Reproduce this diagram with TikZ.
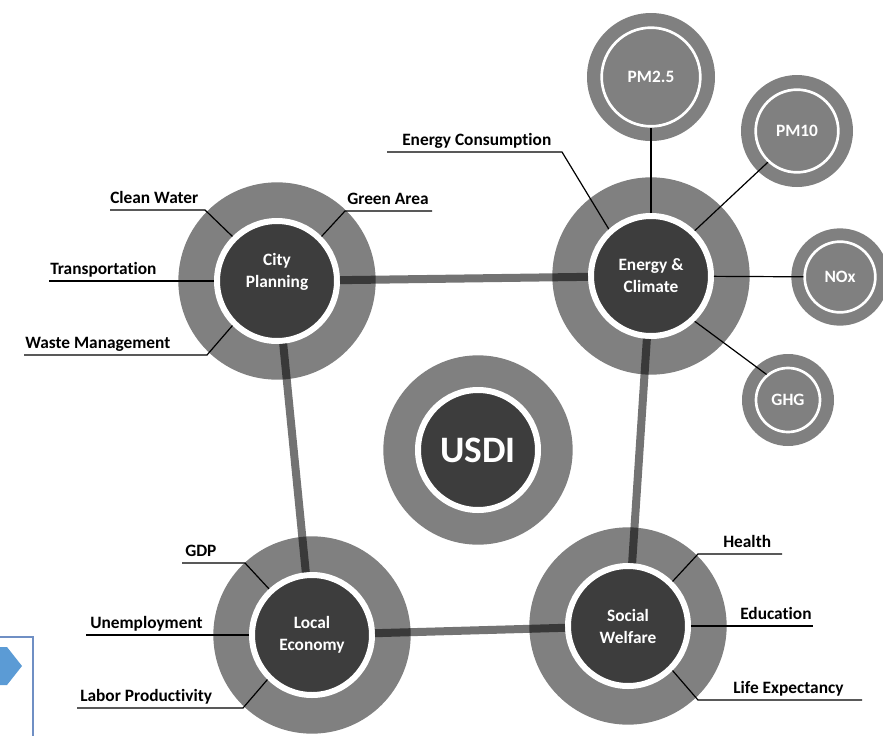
\documentclass[tikz,border=0pt]{standalone}
\usepackage{fontspec}
\setmainfont{Carlito}[Ligatures=NoCommon]
\definecolor{ringgray}{HTML}{808080}
\definecolor{coredark}{HTML}{3D3D3D}
\definecolor{boxblue}{HTML}{6F8FC4}
\definecolor{chevblue}{HTML}{5B9BD5}

\begin{document}
\begin{tikzpicture}[
    x=0.75pt, y=-0.75pt,
    every node/.style={font=\bfseries\fontsize{13}{16.5}\selectfont},
    ring/.style={circle, fill=ringgray, inner sep=0pt, minimum size=148pt},
    core/.style={circle, fill=coredark, draw=white, line width=4.5pt,
                 minimum size=90pt, inner sep=0pt, text=white, align=center},
    halo/.style={circle, fill=ringgray, inner sep=0pt},
    sat/.style={circle, fill=ringgray, draw=white, line width=2pt,
                inner sep=0pt, text=white},
    link/.style={line width=6pt, black, opacity=0.55},
    leader/.style={line width=0.9pt},
    lbl/.style={anchor=base west, inner sep=0pt}
  ]
  \useasboundingbox (0,0) rectangle (883,736);

  % Cut-off box at the lower left
  \draw[boxblue, line width=1pt] (-10,637) -- (33,637) -- (33,746);
  \fill[chevblue] (-10,647) -- (7,647) -- (22,666) -- (7,685) -- (-10,685) -- cycle;

  % Outer rings
  \node[ring] (CPr) at (277,281) {};
  \node[ring] (ECr) at (651,276) {};
  \node[ring] (LEr) at (312,635) {};
  \node[ring] (SWr) at (628,626) {};
  \node[ring, minimum size=142pt] (Ur) at (478,450) {};

  % Main nodes
  \node[core, label={[text=white, align=center, yshift=7pt]center:City\\Planning}] (CP) at (CPr) {};
  \node[core] (EC) at (ECr) {Energy \&\\Climate};
  \node[core] (LE) at (LEr) {Local\\Economy};
  \node[core] (SW) at (SWr) {Social\\Welfare};
  \node[core, font=\bfseries\fontsize{28}{30}\selectfont] (U) at (Ur) {USDI};

  % Pollutant nodes
  \node[halo, minimum size=96pt] (PMaH) at (651,77) {};
  \node[sat, minimum size=74pt] (PMa) at (PMaH) {PM2.5};
  \node[halo, minimum size=84pt] (PMbH) at (797,131) {};
  \node[sat, minimum size=62pt] (PMb) at (PMbH) {PM10};
  \node[halo, minimum size=73pt] (NOxH) at (840,277) {};
  \node[sat, minimum size=53pt] (NOx) at (NOxH) {NOx};
  \node[halo, minimum size=69pt] (GHGH) at (788,400) {};
  \node[sat, minimum size=48pt] (GHG) at (GHGH) {GHG};

  % Links between the main nodes
  \draw[link] (CP) -- (EC);
  \draw[link] (CP) -- (LE);
  \draw[link] (EC) -- (SW);
  \draw[link] (LE) -- (SW);

  % Leader lines to the pollutants
  \draw[leader] (EC) -- (PMa);
  \draw[leader] (EC.46) -- (PMb.227);
  \draw[leader] (EC) -- (NOx);
  \draw[leader] (EC.-46) -- (GHG.130);

  % Indicators of City Planning
  \node[lbl] (CW) at (110,203) {Clean Water};
  \coordinate (CWk) at (205,210);
  \coordinate (CWe) at (110,210);
  \draw[leader] (CP.135) -- (CWk) -- (CWe);

  \node[lbl] (GA) at (347,204) {Green Area};
  \coordinate (GAk) at (345,211);
  \coordinate (GAe) at (432,211);
  \draw[leader] (CP.45) -- (GAk) -- (GAe);

  \node[lbl] (TR) at (50,274) {Transportation};
  \coordinate (TRe) at (49,281);
  \draw[leader] (CP.180) -- (TRe);

  \node[lbl] (WM) at (25,348) {Waste Management};
  \coordinate (WMk) at (207,355);
  \coordinate (WMe) at (24,355);
  \draw[leader] (CP.225) -- (WMk) -- (WMe);

  % Indicator of Energy & Climate
  \node[lbl] (EN) at (402,145) {Energy Consumption};
  \coordinate (ENk) at (562,152);
  \coordinate (ENe) at (387,152);
  \draw[leader] (EC.132) -- (ENk) -- (ENe);

  % Indicators of Local Economy
  \node[lbl] (GDP) at (185,556) {GDP};
  \coordinate (GDPk) at (245,563);
  \coordinate (GDPe) at (182,563);
  \draw[leader] (LE.133) -- (GDPk) -- (GDPe);

  \node[lbl] (UN) at (90,628) {Unemployment};
  \coordinate (UNe) at (86,635);
  \draw[leader] (LE.180) -- (UNe);

  \node[lbl] (LP) at (80,701) {Labor Productivity};
  \coordinate (LPk) at (243,708);
  \coordinate (LPe) at (77,708);
  \draw[leader] (LE.225) -- (LPk) -- (LPe);

  % Indicators of Social Welfare
  \node[lbl] (HE) at (723,547) {Health};
  \coordinate (HEk) at (698,554);
  \coordinate (HEe) at (782,554);
  \draw[leader] (SW.45) -- (HEk) -- (HEe);

  \node[lbl] (ED) at (740,619) {Education};
  \coordinate (EDe) at (813,626);
  \draw[leader] (SW.0) -- (EDe);

  \node[lbl] (LX) at (733,693) {Life Expectancy};
  \coordinate (LXk) at (698,700);
  \coordinate (LXe) at (862,700);
  \draw[leader] (SW.-45) -- (LXk) -- (LXe);

\end{tikzpicture}
\end{document}
